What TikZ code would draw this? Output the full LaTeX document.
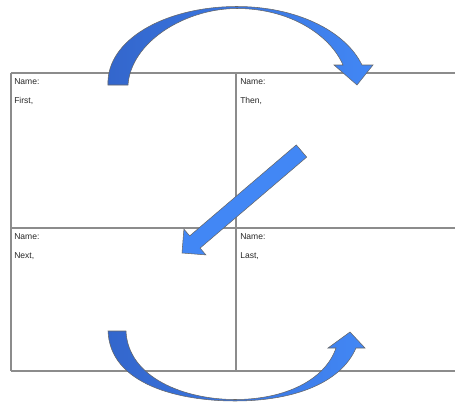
\documentclass[tikz,border=0pt]{standalone}
\usepackage{fontspec}
\setmainfont{Liberation Sans}
\definecolor{arrowdark}{HTML}{3366CC}
\definecolor{arrowlight}{HTML}{4287F5}
\begin{document}
\begin{tikzpicture}[x=0.75pt,y=-0.75pt,
  gridline/.style={draw=black!45,line width=0.9pt},
  label/.style={anchor=west,inner sep=0pt,font=\fontsize{6.4}{7}\selectfont,text=black!85},
  bluearrow/.style={draw=black!60,line width=0.4pt,left color=arrowdark,right color=arrowlight}]
\useasboundingbox (0,0) rectangle (455,404);
\draw [gridline](11,73) -- (455,73);
\draw [gridline](11,228) -- (455,228);
\draw [gridline](11,371) -- (455,371);
\draw [gridline](11,73) -- (11,371);
\draw [gridline](236,73) -- (236,371);
\node [label] (name1) at (14,82) {Name:};
\node [label] (first) at (14,101) {First,};
\node [label] (name2) at (240,82) {Name:};
\node [label] (then) at (240,101) {Then,};
\node [label] (name3) at (14,237) {Name:};
\node [label] (next) at (14,256) {Next,};
\node [label] (name4) at (240,237) {Name:};
\node [label] (last) at (240,256) {Last,};
\path [bluearrow](108,85) .. controls (106,40) and (165,6.5) .. (237,6.5) .. controls (295,6.5) and (345,30) .. (362,65) -- (373,65) -- (357,85) -- (334,65) -- (343,65) .. controls (330,35) and (290,8.5) .. (237,8.5) .. controls (185,8.5) and (131,42) .. (128,85) -- cycle;
\path [bluearrow](108,331) .. controls (110,385) and (180,401) .. (235,401) .. controls (290,401) and (340,385) .. (356,348) -- (365,348) -- (350,332) -- (328,348) -- (336,348) .. controls (325,380) and (285,399.5) .. (235,399.5) .. controls (185,399.5) and (128,378) .. (126,331) -- cycle;
\path [draw=black!60,line width=0.4pt,fill=arrowlight](296.3,144.9) -- (189.7,235.9) -- (183.9,229.1) -- (182,253) -- (205.9,254.9) -- (200.1,248.1) -- (306.7,157.1) -- cycle;
\end{tikzpicture}
\end{document}
